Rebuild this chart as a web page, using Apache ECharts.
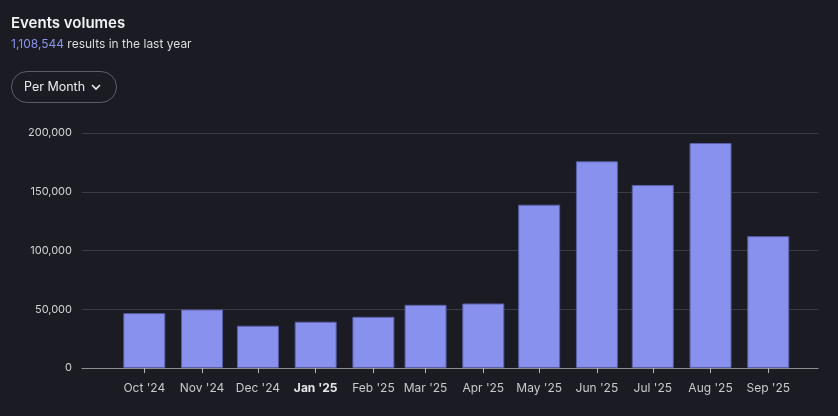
<!DOCTYPE html>
<html>
<head>
<meta charset="utf-8">
<script src="https://cdn.jsdelivr.net/npm/echarts@6/dist/echarts.min.js"></script>
<style>
html,body{margin:0;padding:0;background:#1a1b23;}
#c{width:838px;height:416px;}
</style>
</head>
<body>
<div id="c"></div>
<script>
// Data
const monthDates = ['2024-10-01','2024-11-01','2024-12-01','2025-01-01','2025-02-01','2025-03-01','2025-04-01','2025-05-01','2025-06-01','2025-07-01','2025-08-01','2025-09-01'];
const tickLabels = ["Oct '24","Nov '24","Dec '24","Jan '25","Feb '25","Mar '25","Apr '25","May '25","Jun '25","Jul '25","Aug '25","Sep '25"];
const eventCounts = [46700, 49800, 36000, 39400, 43600, 53800, 54900, 139000, 175900, 155800, 191500, 112200];
const yTicks = [0, 50000, 100000, 150000, 200000];
const totalText = '1,108,544';

const ts = d => { const p = d.split('-').map(Number); return Date.UTC(p[0], p[1]-1, p[2]); };
const monthTs = monthDates.map(ts);
const DAY = 86400000;
const xMin = ts('2024-10-01') - 33.45*DAY;
const xMax = ts('2025-09-01') + 26.7*DAY;

const chart = echarts.init(document.getElementById('c'), null, {renderer:'canvas'});
const font = 'Inter, "Noto Sans", sans-serif';
chart.setOption({
  backgroundColor: '#1a1b23',
  textStyle: {fontFamily: font},
  title: {
    text: 'Events volumes',
    left: 6, top: 11,
    textStyle: {color:'#f2f2f5', fontSize:15, fontWeight:600, fontFamily: font},
    subtext: '{a|' + totalText + '} {b|results in the last year}',
    itemGap: 7,
    subtextStyle: {
      rich: {
        a: {color:'#8a93ee', fontSize:12, fontFamily: font},
        b: {color:'#dcdce0', fontSize:12, fontFamily: font}
      }
    }
  },
  graphic: [
    {type:'rect', left:11, top:71, shape:{width:105, height:31, r:15.5}, style:{fill:'transparent', stroke:'#5c5d66', lineWidth:1}},
    {type:'text', left:24, top:81, style:{text:'Per Month', fill:'#ececef', font:'12.5px ' + font}},
    {type:'polyline', shape:{points:[[92,85],[96,89],[100,85]]}, style:{stroke:'#ececef', lineWidth:1.6, fill:null}}
  ],
  grid: {left:82, right:20, top:133, bottom:48, containLabel:false},
  xAxis: {
    type:'value',
    min:xMin, max:xMax,
    splitLine:{show:false},
    axisLine:{show:true, lineStyle:{color:'#8e8e95', width:1.2}},
    axisTick:{show:true, customValues: monthTs, length:5, lineStyle:{color:'#b5b5ba'}},
    axisLabel:{
      customValues: monthTs,
      margin:14,
      color:'#c9c9ce', fontSize:12,
      formatter: function(v){
        const i = monthTs.indexOf(v);
        const s = i >= 0 ? tickLabels[i] : '';
        return (i >= 0 && new Date(v).getUTCMonth() === 0) ? '{b|' + s + '}' : s;
      },
      rich: {b:{fontWeight:'bold', color:'#e6e6ea', fontSize:12}}
    }
  },
  yAxis: {
    type:'value',
    min:0, max:200000, interval:50000,
    axisLine:{show:false}, axisTick:{show:false},
    splitLine:{lineStyle:{color:'#3a3b46', width:1.2}},
    axisLabel:{
      margin:10, color:'#d3d3d8', fontSize:11,
      formatter: v => yTicks.indexOf(v) >= 0 ? v.toLocaleString('en-US') : ''
    }
  },
  series: [{
    type:'bar',
    barWidth:42,
    data: monthTs.map((t,i)=>[t, eventCounts[i]]),
    itemStyle:{color:'#8891ed', borderColor:'#5a5fa6', borderWidth:1},
    emphasis:{disabled:true},
    animation:false
  }],
  animation:false
});
</script>
</body>
</html>
